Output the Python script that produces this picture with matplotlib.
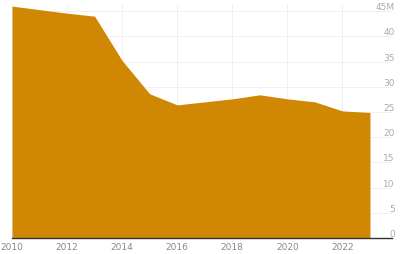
import matplotlib
matplotlib.use('Agg')
import matplotlib.pyplot as plt

# Data (millions)
years = [2010, 2011, 2012, 2013, 2014, 2015, 2016, 2017, 2018, 2019, 2020, 2021, 2022, 2023]
values = [46.0, 45.3, 44.6, 44.0, 35.2, 28.6, 26.4, 27.0, 27.6, 28.4, 27.6, 27.0, 25.2, 24.9]
x_ticks = [2010, 2012, 2014, 2016, 2018, 2020, 2022]
y_ticks = [0, 5, 10, 15, 20, 25, 30, 35, 40, 45]
y_labels = ['0', '5', '10', '15', '20', '25', '30', '35', '40', '45M']

fig = plt.figure(figsize=(4, 2.55), dpi=100)
ax = fig.add_axes([0.03, 0.063, 0.95, 0.919])

ax.fill_between(years, values, 0, color='#d08804', linewidth=0, zorder=2)

ax.set_xlim(2010, 2023.8)
ax.set_ylim(0, 46.5)

ax.set_xticks(x_ticks)
ax.set_yticks(y_ticks)
ax.set_yticklabels(y_labels)
ax.yaxis.tick_right()

ax.grid(True, color='#eeeeee', linewidth=0.6, zorder=0)
ax.set_axisbelow(True)

for s in ['top', 'right', 'left']:
    ax.spines[s].set_visible(False)
ax.spines['bottom'].set_color('#333333')
ax.spines['bottom'].set_linewidth(1.0)
ax.spines['bottom'].set_zorder(3)

ax.tick_params(axis='x', length=0, pad=3, labelsize=6.5, labelcolor='#888888')
ax.tick_params(axis='y', length=0, pad=2, labelsize=6.5, labelcolor='#aaaaaa')
for lab in ax.get_yticklabels():
    lab.set_horizontalalignment('right')
    lab.set_verticalalignment('bottom')

fig.savefig('out.png', dpi=100)
